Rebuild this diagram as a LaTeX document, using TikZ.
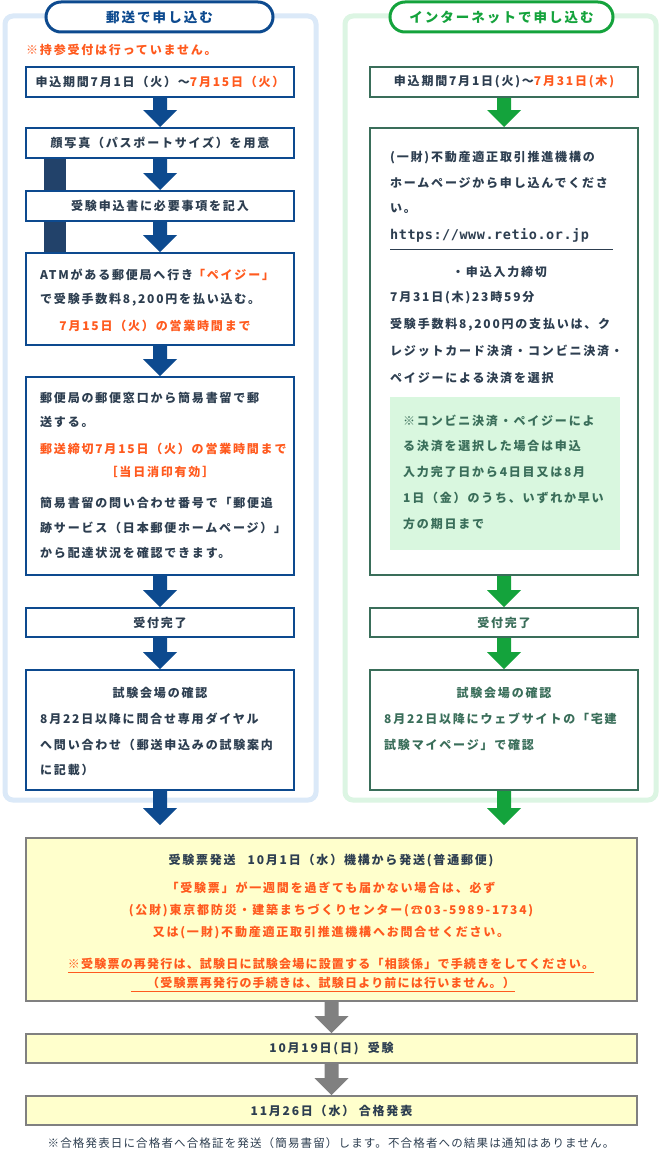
\documentclass[tikz,border=0pt]{standalone}
\usepackage{fontspec}
\setmainfont{Noto Sans CJK JP}[LetterSpace=15]
\newfontfamily\urlfont{DejaVu Sans Mono}[LetterSpace=4]
\usetikzlibrary{calc}
\definecolor{navy}{HTML}{0D4A8F}
\definecolor{txt}{HTML}{2D3E50}
\definecolor{org}{HTML}{FF5A1E}
\definecolor{lblue}{HTML}{DBE9F8}
\definecolor{lgreen}{HTML}{DCF5E3}
\definecolor{gr}{HTML}{14A33C}
\definecolor{dgr}{HTML}{3A6E5A}
\definecolor{ingr}{HTML}{D9F7DF}
\definecolor{yel}{HTML}{FFFFCC}
\definecolor{bar}{HTML}{22426A}
\tikzset{
 lbox/.style={draw=navy,line width=2pt,fill=white,minimum width=268pt,inner sep=0},
 rbox/.style={draw=dgr,line width=2pt,fill=white,minimum width=268pt,inner sep=0},
 ybox/.style={draw=gray,line width=2pt,fill=yel,minimum width=611pt,inner sep=0},
 t/.style={text=txt,font=\fontsize{12}{14}\selectfont\bfseries,inner sep=0},
 to/.style={t,text=org},
 tw/.style={t,anchor=west},
 pill/.style={rounded corners=15pt,fill=white,line width=3pt,minimum height=30pt,inner sep=0,font=\fontsize{13.5}{15}\selectfont\bfseries},
}
\newcommand\blockarrow[3]{% color, from, to
 \fill[#1] ($(#2.south)+(-7,0)$) -- ($(#3.north)+(-7,-17)$) -- ($(#3.north)+(-17,-17)$) -- (#3.north) -- ($(#3.north)+(17,-17)$) -- ($(#3.north)+(7,-17)$) -- ($(#2.south)+(7,0)$) -- cycle;}
\begin{document}
\begin{tikzpicture}[x=1pt,y=-1pt]
\useasboundingbox (0,0) rectangle (661,1156);
\fill[white] (0,0) rectangle (661,1156);
% panels
\draw[lblue,line width=5pt,rounded corners=8pt] (5,16) rectangle (316,800);
\draw[lgreen,line width=5pt,rounded corners=8pt] (345,16) rectangle (656,800);
\node[pill,draw=navy,text=navy,minimum width=227pt] (lt) at (159.5,17) {郵送で申し込む};
\node[pill,draw=gr,text=gr,minimum width=223pt] (rt) at (501.5,17) {インターネットで申し込む};
\node[to,anchor=west] (note) at (26,50) {※持参受付は行っていません。};
% side bars
\fill[bar] (44,158) rectangle (66,191);
\fill[bar] (44,221) rectangle (66,253);
% left boxes
\node[lbox,minimum height=30pt] (l1) at (160,82) {};
\node[t] at (l1) {申込期間7月1日（火）～\textcolor{org}{7月15日（火）}};
\node[lbox,minimum height=30pt] (l2) at (160,143) {};
\node[t] at (l2) {顔写真（パスポートサイズ）を用意};
\node[lbox,minimum height=30pt] (l3) at (160,206) {};
\node[t] at (l3) {受験申込書に必要事項を記入};
\node[lbox,minimum height=92pt] (l4) at (160,299) {};
\node[tw] at (40,275) {ATMがある郵便局へ行き\textcolor{org}{「ペイジー」}};
\node[tw] at (40,300) {で受験手数料8,200円を払い込む。};
\node[to] at (155,326) {7月15日（火）の営業時間まで};
\node[lbox,minimum height=198pt] (l5) at (160,476) {};
\node[tw] at (40,398) {郵便局の郵便窓口から簡易書留で郵};
\node[tw] at (40,422) {送する。};
\node[tw,text=org] at (40,449) {郵送締切7月15日（火）の営業時間まで};
\node[to] at (160,472) {［当日消印有効］};
\node[tw] at (40,503) {簡易書留の問い合わせ番号で「郵便追};
\node[tw] at (40,528) {跡サービス（日本郵便ホームページ）」};
\node[tw] at (40,553) {から配達状況を確認できます。};
\node[lbox,minimum height=29pt] (l6) at (160,622.5) {};
\node[t] at (l6) {受付完了};
\node[lbox,minimum height=120pt] (l7) at (160,730) {};
\node[t] at (160,693) {試験会場の確認};
\node[tw] at (40,719) {8月22日以降に問合せ専用ダイヤル};
\node[tw] at (40,745) {へ問い合わせ（郵送申込みの試験案内};
\node[tw] at (40,770) {に記載）};
% right boxes
\node[rbox,minimum height=30pt] (r1) at (504,82) {};
\node[t] at (r1) {申込期間7月1日(火)～\textcolor{org}{7月31日(木)}};
\node[rbox,minimum height=447pt] (r2) at (504,351.5) {};
\node[tw] at (390,158) {(一財)不動産適正取引推進機構の};
\node[tw] at (390,183) {ホームページから申し込んでくださ};
\node[tw] at (390,209) {い。};
\node[tw,font=\urlfont\fontsize{13.5}{15}\selectfont\bfseries] (url) at (390,235) {https://www.retio.or.jp};
\draw[txt,line width=1pt] (390,249) -- (613,249);
\node[tw] at (452,272) {・申込入力締切};
\node[tw] at (390,298) {7月31日(木)23時59分};
\node[tw] at (390,325) {受験手数料8,200円の支払いは、ク};
\node[tw] at (390,351) {レジットカード決済・コンビニ決済・};
\node[tw] at (390,378) {ペイジーによる決済を選択};
\fill[ingr] (390,397) rectangle (620,550);
\node[tw,text=dgr] at (403,421) {※コンビニ決済・ペイジーによ};
\node[tw,text=dgr] at (403,446) {る決済を選択した場合は申込};
\node[tw,text=dgr] at (403,472) {入力完了日から4日目又は8月};
\node[tw,text=dgr] at (403,498) {1日（金）のうち、いずれか早い};
\node[tw,text=dgr] at (403,524) {方の期日まで};
\node[rbox,minimum height=29pt] (r6) at (504,622.5) {};
\node[t,text=dgr] at (r6) {受付完了};
\node[rbox,minimum height=120pt] (r7) at (504,730) {};
\node[t,text=dgr] at (504,693) {試験会場の確認};
\node[tw,text=dgr] at (384,719) {8月22日以降にウェブサイトの「宅建};
\node[tw,text=dgr] at (384,745) {試験マイページ」で確認};
% bottom
\node[ybox,minimum height=163pt] (y1) at (331.5,919.5) {};
\node[t] at (331,861) {受験票発送\quad 10月1日（水）機構から発送(普通郵便)};
\node[to] at (331,888) {「受験票」が一週間を過ぎても届かない場合は、必ず};
\node[to] at (331,911) {(公財)東京都防災・建築まちづくりセンター(☎03-5989-1734)};
\node[to] at (331,933) {又は(一財)不動産適正取引推進機構へお問合せください。};
\node[to,font=\fontsize{12}{14}\selectfont\bfseries\addfontfeature{LetterSpace=10}] (u1) at (331,964) {※受験票の再発行は、試験日に試験会場に設置する「相談係」で手続きをしてください。};
\draw[org,line width=0.8pt] ($(u1.south west)+(0,2)$) -- ($(u1.south east)+(0,2)$);
\node[to,font=\fontsize{12}{14}\selectfont\bfseries\addfontfeature{LetterSpace=10}] (u2) at (331,983) {（受験票再発行の手続きは、試験日より前には行いません。）};
\draw[org,line width=0.8pt] ($(u2.south west)+(-16,2)$) -- ($(u2.south east)+(0,2)$);
\node[ybox,minimum height=29pt] (y2) at (331.5,1048.5) {};
\node[t] at (y2) {10月19日(日)\ \ 受験};
\node[ybox,minimum height=29pt] (y3) at (331.5,1110.5) {};
\node[t] at (y3) {11月26日（水）\ 合格発表};
\node[t,font=\fontsize{11.5}{12}\selectfont\addfontfeature{LetterSpace=10}] (foot) at (331,1143) {※合格発表日に合格者へ合格証を発送（簡易書留）します。不合格者への結果は通知はありません。};
% arrows
\coordinate (lend) at (160,825); \coordinate (rend) at (504,825);
\blockarrow{navy}{l1}{l2}
\blockarrow{navy}{l2}{l3}
\blockarrow{navy}{l3}{l4}
\blockarrow{navy}{l4}{l5}
\blockarrow{navy}{l5}{l6}
\blockarrow{navy}{l6}{l7}
\fill[navy] ($(l7.south)+(-7,0)$) -- ($(lend)+(-7,-17)$) -- ($(lend)+(-17,-17)$) -- (lend) -- ($(lend)+(17,-17)$) -- ($(lend)+(7,-17)$) -- ($(l7.south)+(7,0)$) -- cycle;
\blockarrow{gr}{r1}{r2}
\blockarrow{gr}{r2}{r6}
\blockarrow{gr}{r6}{r7}
\fill[gr] ($(r7.south)+(-7,0)$) -- ($(rend)+(-7,-17)$) -- ($(rend)+(-17,-17)$) -- (rend) -- ($(rend)+(17,-17)$) -- ($(rend)+(7,-17)$) -- ($(r7.south)+(7,0)$) -- cycle;
\blockarrow{gray}{y1}{y2}
\blockarrow{gray}{y2}{y3}
\end{tikzpicture}
\end{document}
